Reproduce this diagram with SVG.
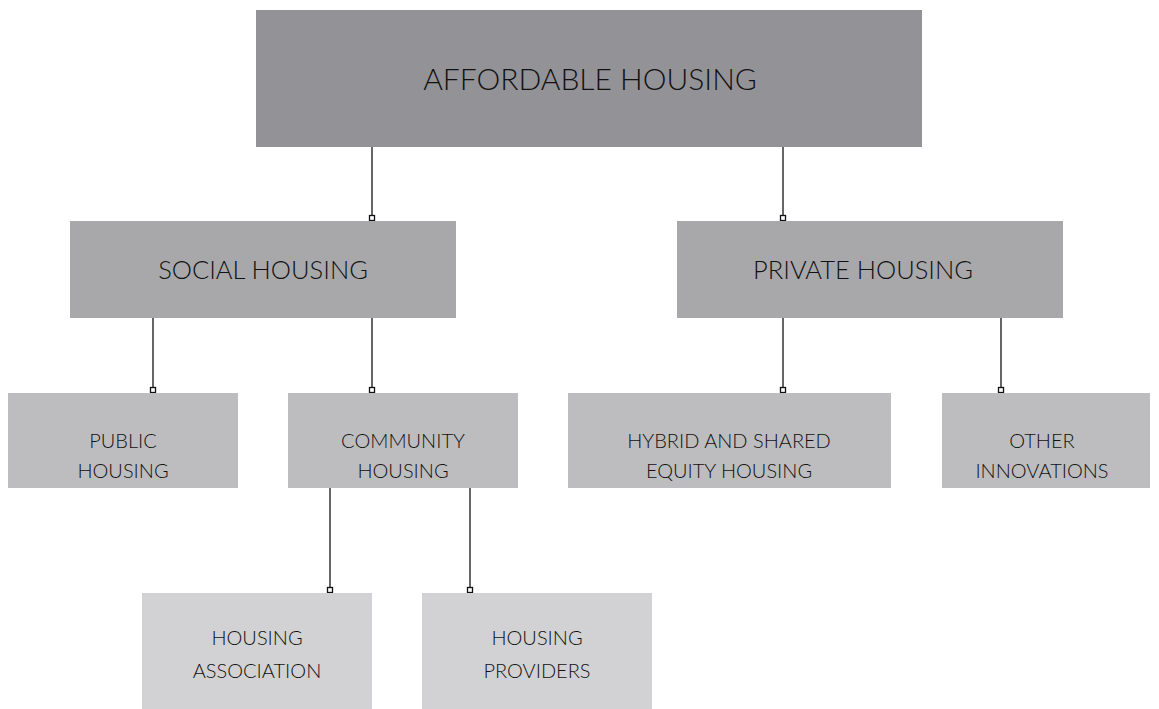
<svg xmlns="http://www.w3.org/2000/svg" width="1159" height="709" viewBox="0 0 1159 709">
<style>
text{font-family:Lato,"Open Sans","Liberation Sans",sans-serif;font-weight:300;fill:#111;text-anchor:middle}
.l1{fill:#939397}.l2{fill:#a8a8ab}.l3{fill:#bdbdbf}.l4{fill:#d2d2d4}
.t1{font-size:30px}.t2{font-size:25.5px}.t3{font-size:20px}
.c line{stroke:#333;stroke-width:1.5}
.c rect{fill:#fff;stroke:#111;stroke-width:1.3}
</style>
<rect width="1159" height="709" fill="#fff"/>
<g class="c" id="connectors">
<line x1="372" y1="147" x2="372" y2="216"/><rect x="369.5" y="215.5" width="5" height="5"/>
<line x1="783" y1="147" x2="783" y2="216"/><rect x="780.5" y="215.5" width="5" height="5"/>
<line x1="153" y1="318" x2="153" y2="388"/><rect x="150.5" y="387.5" width="5" height="5"/>
<line x1="372" y1="318" x2="372" y2="388"/><rect x="369.5" y="387.5" width="5" height="5"/>
<line x1="783" y1="318" x2="783" y2="388"/><rect x="780.5" y="387.5" width="5" height="5"/>
<line x1="1001" y1="318" x2="1001" y2="388"/><rect x="998.5" y="387.5" width="5" height="5"/>
<line x1="330" y1="488" x2="330" y2="588"/><rect x="327.5" y="587.5" width="5" height="5"/>
<line x1="470" y1="488" x2="470" y2="588"/><rect x="467.5" y="587.5" width="5" height="5"/>
</g>
<g id="affordable"><rect class="l1" x="256" y="10" width="666" height="137"/><text class="t1" x="590" y="90">AFFORDABLE HOUSING</text></g>
<g id="social"><rect class="l2" x="70" y="221" width="386" height="97"/><text class="t2" x="263" y="279">SOCIAL HOUSING</text></g>
<g id="private"><rect class="l2" x="677" y="221" width="386" height="97"/><text class="t2" x="863" y="279">PRIVATE HOUSING</text></g>
<g id="public"><rect class="l3" x="8" y="393" width="230" height="95"/><text class="t3" x="123" y="448">PUBLIC</text><text class="t3" x="123" y="478">HOUSING</text></g>
<g id="community"><rect class="l3" x="288" y="393" width="230" height="95"/><text class="t3" x="403" y="448">COMMUNITY</text><text class="t3" x="403" y="478">HOUSING</text></g>
<g id="hybrid"><rect class="l3" x="568" y="393" width="323" height="95"/><text class="t3" x="729" y="448">HYBRID AND SHARED</text><text class="t3" x="729" y="478">EQUITY HOUSING</text></g>
<g id="other"><rect class="l3" x="942" y="393" width="208" height="95"/><text class="t3" x="1042" y="448">OTHER</text><text class="t3" x="1042" y="478">INNOVATIONS</text></g>
<g id="association"><rect class="l4" x="142" y="593" width="230" height="116"/><text class="t3" x="257" y="645">HOUSING</text><text class="t3" x="257" y="678">ASSOCIATION</text></g>
<g id="providers"><rect class="l4" x="422" y="593" width="230" height="116"/><text class="t3" x="537" y="645">HOUSING</text><text class="t3" x="537" y="678">PROVIDERS</text></g>
</svg>
